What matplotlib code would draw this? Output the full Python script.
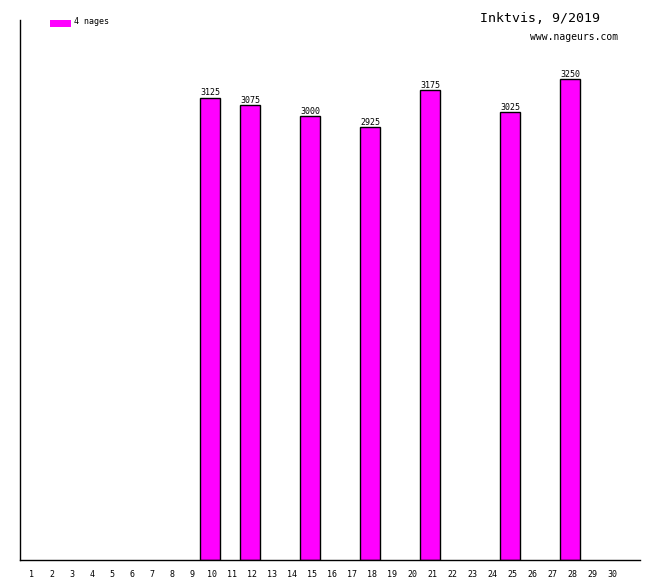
import numpy as np
import matplotlib.pyplot as plt

# data
days = list(range(1, 31))
bar_days = [10, 12, 15, 18, 21, 25, 28]
bar_values = [3125, 3075, 3000, 2925, 3175, 3025, 3250]
title = 'Inktvis, 9/2019'
site = 'www.nageurs.com'
legend_label = '4 nages'

mono = 'DejaVu Sans Mono'

fig = plt.figure(figsize=(6.6, 5.8), dpi=100)
ax = fig.add_axes([20 / 660, 20 / 580, 620 / 660, 540 / 580])

bars = ax.bar(bar_days, bar_values, width=1.0, color='#ff00ff',
              edgecolor='black', linewidth=1.0)
for d, v in zip(bar_days, bar_values):
    ax.text(d, v + 2, str(v), ha='center', va='bottom',
            fontsize=6, family=mono)

ax.set_xlim(0.5, 31.5)
ax.set_ylim(0, 3649)
ax.spines['top'].set_visible(False)
ax.spines['right'].set_visible(False)
ax.spines['left'].set_linewidth(1.0)
ax.spines['bottom'].set_linewidth(1.0)
ax.set_yticks([])
ax.set_xticks([d + 0.1 for d in days])
ax.set_xticklabels([str(d) for d in days], fontsize=6, family=mono)
ax.tick_params(axis='x', length=0, pad=7)

# titre et legende
fig.text(540 / 660, 1 - 18 / 580, title, ha='center', va='center',
         fontsize=9.5, family=mono)
fig.text(574 / 660, 1 - 37 / 580, site, ha='center', va='center',
         fontsize=7, family=mono)
fig.patches.append(plt.Rectangle((50 / 660, 1 - 26.5 / 580), 21 / 660, 7 / 580,
                                 transform=fig.transFigure,
                                 facecolor='#ff00ff', edgecolor='none'))
fig.text(74 / 660, 1 - 22 / 580, legend_label, ha='left', va='center',
         fontsize=6, family=mono)

plt.savefig('out.png', dpi=100)
plt.close()
